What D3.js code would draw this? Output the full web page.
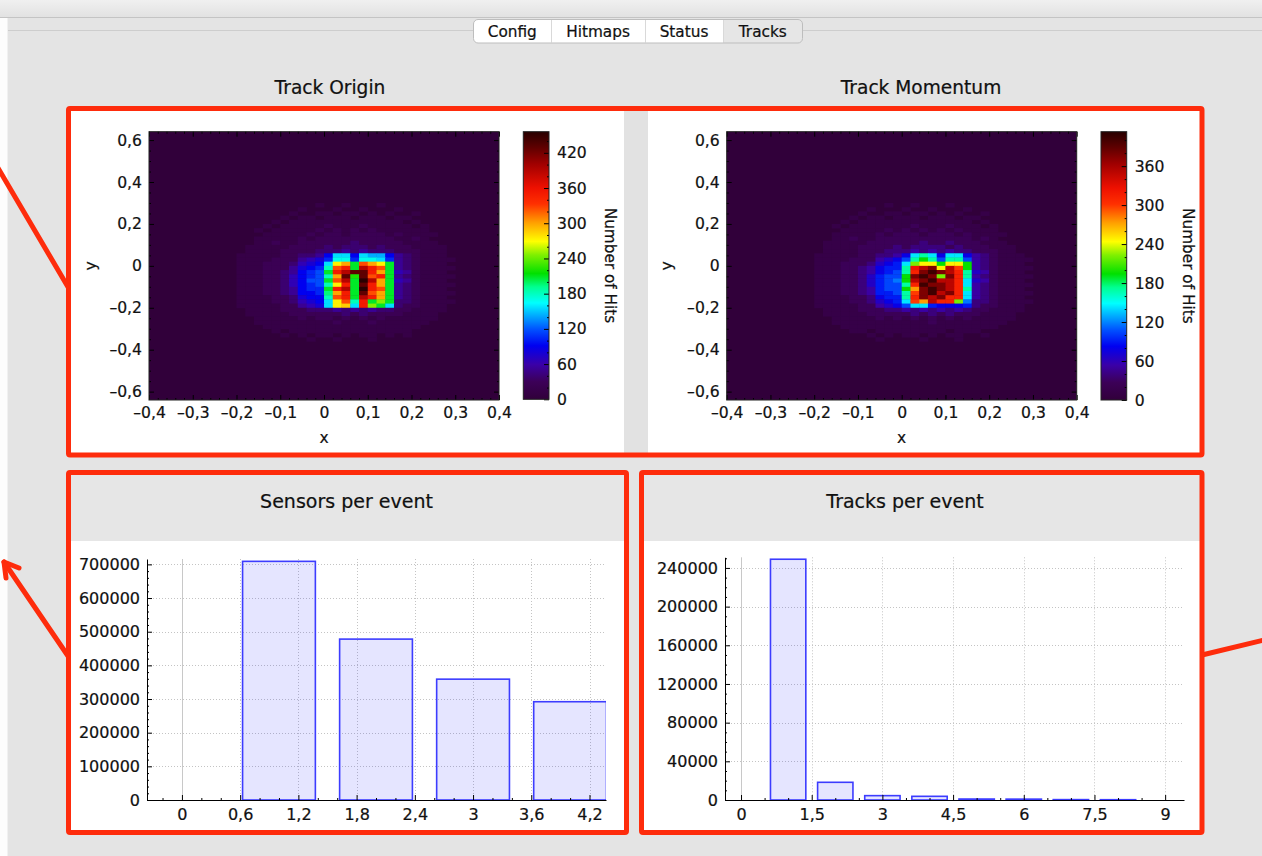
<!DOCTYPE html>
<html><head><meta charset="utf-8">
<script src="https://cdn.jsdelivr.net/npm/d3@7/dist/d3.min.js"></script>
<style>
html,body{margin:0;padding:0;background:#e4e4e4;overflow:hidden}
svg{display:block}
text{font-family:"DejaVu Sans",sans-serif;fill:#111;stroke:#111;stroke-width:0.22px}
</style></head><body>
<svg id="chart" width="1262" height="856"></svg>
<script>
// ---------------- data ----------------
const tabLabels = ["Config", "Hitmaps", "Status", "Tracks"];
const heatTitles = ["Track Origin", "Track Momentum"];
const barTitles = ["Sensors per event", "Tracks per event"];

const sensorsX = [1, 2, 3, 4];
const sensorsCount = [709000, 478000, 359000, 292000];
const tracksX = [1, 2, 3, 4, 5, 6, 7, 8];
const tracksCount = [249000, 18300, 4500, 3800, 1000, 900, 400, 300];

const sensorsXTicks = [0, 0.6, 1.2, 1.8, 2.4, 3, 3.6, 4.2];
const sensorsYTicks = [0, 100000, 200000, 300000, 400000, 500000, 600000, 700000];
const tracksXTicks = [0, 1.5, 3, 4.5, 6, 7.5, 9];
const tracksYTicks = [0, 40000, 80000, 120000, 160000, 200000, 240000];

const heatXTicks = [-0.4, -0.3, -0.2, -0.1, 0, 0.1, 0.2, 0.3, 0.4];
const heatYTicks = [-0.6, -0.4, -0.2, 0, 0.2, 0.4, 0.6];
const originScaleTicks = [0, 60, 120, 180, 240, 300, 360, 420];
const momentumScaleTicks = [0, 60, 120, 180, 240, 300, 360];
const originMax = 456, momentumMax = 413;

// histogram cells: 0.02 x 0.02 bins; window starts at x=-0.20, top y=0.30
// each char = count level, value = index in CODE * 13
const CODE = "0123456789abcdefghijklmnopqrstuvwxyz";
const CODE_STEP = 13;
const originRows = [
 "0000000001|00100010|0000000",
 "0000000100|01001000|1000000",
 "0000001001|10110101|0010000",
 "0000010110|11101110|1100000",
 "0000101111|11111111|1010000",
 "0001011111|21112111|1101000",
 "0010111112|12121211|1111000",
 "0001111121|22122221|2111100",
 "0011111212|22222222|1121000",
 "0011211222|22232222|2111100",
 "0111112222|32333232|2211110",
 "0111122223|33434333|2221110",
 "1111122334|7cc7cbb7|4321110",
 "1111222456|8dd8ddc8|4321111",
 "1112223567|clngpnlg|4321110",
 "1112224678|eprgurpg|4321111",
 "1112234789|gruxxrng|5421110",
 "1112235789|enxhxprg|4321111",
 "1112235799|gpugzung|5421110",
 "1112235789|elrgxrng|4321111",
 "1112234788|grugzrpg|4321110",
 "1112234778|fnrgxpng|4321111",
 "1111223677|eprgurng|4321110",
 "1111223567|clpergjg|3321111",
 "1111122456|clmcrjgc|3221110",
 "0111122233|34343433|2211110",
 "0111112222|22323222|2111100",
 "0011111212|21212121|1111100",
 "0011111111|12111211|1111000",
 "0001111111|11111111|1110000",
 "0000101111|11111111|1100000",
 "0000010101|10101101|0100000",
 "0000000010|01000100|0000000"
];
const momentumRows = [
 "0000000010|01000100|0000000",
 "0000001000|10010001|0000000",
 "0000010011|01101010|0100000",
 "0000101101|11011101|1000000",
 "0001011111|11111111|0100000",
 "0010111111|12111211|1010000",
 "0001111121|21212121|1110000",
 "0011111212|22122212|1111000",
 "0011211222|22222222|1210000",
 "0111112222|22322322|2111000",
 "0111122223|23333232|2211100",
 "0111122233|34343433|2221100",
 "1111122334|6bdb6bb6|4321110",
 "1111222456|8dfd8dd8|4321111",
 "1112223567|bhjjfjjf|4321110",
 "1112234677|dprtjrnf|4321111",
 "1112234678|dotvtrod|5421110",
 "1112235788|ftvthtod|4321111",
 "1112235789|frtvrrob|5421110",
 "1112235788|dovttrob|4321111",
 "1112234788|fltvtrod|4321110",
 "1112234778|dntvrtob|4321111",
 "1111223677|dotrtoob|4321110",
 "1111223567|bnlrooh9|3321111",
 "1111122456|8bb76667|3221110",
 "0111122233|43434343|2211110",
 "0111112222|23232322|2111100",
 "0011111212|12121212|1111100",
 "0011111111|11121111|1111000",
 "0001111111|11111111|1110000",
 "0000110111|11111011|1000000",
 "0000001010|11010110|0100000",
 "0000000100|00100010|0000000"
];
const WIN_X0 = -0.20, WIN_Y0 = 0.30, BIN = 0.02;

const gradStops = [0, 0.066, 0.13, 0.2, 0.26, 0.33, 0.36, 0.42, 0.47, 0.54, 0.59, 0.66, 0.73, 0.79, 0.88, 0.94, 1];
const gradColors = ["#31003a", "#3c0058", "#3a00a8", "#0000f0", "#0050ff", "#00c8ff", "#00ffff", "#00ff90",
  "#00e000", "#80f000", "#ffff00", "#ffa000", "#ff3000", "#ee1000", "#a00000", "#600000", "#280000"];

// ---------------- drawing ----------------
const svg = d3.select("#chart");
const FONT = "DejaVu Sans";
const FS = 16;
const RED = "#fe2c0c";
const loc = d3.formatLocale({decimal: ",", thousands: "", grouping: [3], currency: ["", ""], minus: "\u2013"});
const fmtDec = loc.format(".1~f");
const fmtInt = loc.format("d");

function colorFor(max) {
  return d3.scaleLinear().domain(gradStops.map(s => s * max)).range(gradColors)
    .interpolate(d3.interpolateRgb).clamp(true);
}
function styleAxis(g, fs) {
  g.attr("font-family", FONT).attr("font-size", fs || FS).attr("color", "#000");
  g.selectAll(".tick line").attr("stroke-width", 1);
  return g;
}
function minorOf(lo, hi, step, major) {
  const out = [];
  for (let k = Math.ceil(lo / step - 1e-9); k * step <= hi + 1e-9; k++) {
    const v = k * step;
    const r = v / major;
    if (Math.abs(r - Math.round(r)) > 1e-6) out.push(v);
  }
  return out;
}

// page background
svg.append("rect").attr("width", 1262).attr("height", 856).attr("fill", "#e4e4e4");
const topGrad = svg.append("defs").append("linearGradient").attr("id", "topg").attr("x1", 0).attr("x2", 0).attr("y1", 0).attr("y2", 1);
topGrad.append("stop").attr("offset", 0).attr("stop-color", "#f0f0f0");
topGrad.append("stop").attr("offset", 1).attr("stop-color", "#e2e2e2");
svg.append("rect").attr("x", 0).attr("y", 0).attr("width", 1262).attr("height", 17).attr("fill", "url(#topg)");
svg.append("line").attr("x1", 0).attr("x2", 1262).attr("y1", 17.5).attr("y2", 17.5).attr("stroke", "#c4c4c4");
svg.append("line").attr("x1", 8).attr("x2", 1262).attr("y1", 30.5).attr("y2", 30.5).attr("stroke", "#cdcdcd");
svg.append("rect").attr("x", 0).attr("y", 18).attr("width", 7.5).attr("height", 838).attr("fill", "#fdfdfd");

// tab bar
(function () {
  const b = [473.5, 551, 645, 723, 802.5];
  const g = svg.append("g");
  g.append("clipPath").attr("id", "tabclip").append("rect")
    .attr("x", b[0]).attr("y", 19.5).attr("width", b[4] - b[0]).attr("height", 23.5).attr("rx", 4.5);
  g.append("rect").attr("x", b[0]).attr("y", 19.5).attr("width", b[4] - b[0]).attr("height", 23.5).attr("rx", 4.5).attr("fill", "#ffffff");
  g.append("rect").attr("clip-path", "url(#tabclip)").attr("x", b[3]).attr("y", 19.5).attr("width", b[4] - b[3]).attr("height", 23.5).attr("fill", "#e6e6e6");
  [b[1], b[2], b[3]].forEach(x => g.append("line").attr("x1", x + 0.5).attr("x2", x + 0.5).attr("y1", 20).attr("y2", 42.5).attr("stroke", "#d9d9d9"));
  g.append("rect").attr("x", b[0]).attr("y", 19.5).attr("width", b[4] - b[0]).attr("height", 23.5).attr("rx", 4.5)
    .attr("fill", "none").attr("stroke", "#bdbdbd");
  tabLabels.forEach((t, i) => g.append("text").attr("x", (b[i] + b[i + 1]) / 2).attr("y", 31.5).attr("dy", "0.36em")
    .attr("text-anchor", "middle").attr("font-size", 15.3).text(t));
})();

// heatmap titles
svg.append("text").attr("x", 330).attr("y", 87).attr("dy", "0.36em").attr("text-anchor", "middle").attr("font-size", 18.6).text(heatTitles[0]);
svg.append("text").attr("x", 921).attr("y", 87).attr("dy", "0.36em").attr("text-anchor", "middle").attr("font-size", 18.6).text(heatTitles[1]);

// top panel backgrounds
svg.append("rect").attr("x", 70).attr("y", 110).attr("width", 1131).attr("height", 344).attr("fill", "#e2e2e2");
svg.append("rect").attr("x", 70).attr("y", 110).attr("width", 554).attr("height", 344).attr("fill", "#ffffff");
svg.append("rect").attr("x", 648).attr("y", 110).attr("width", 553).attr("height", 344).attr("fill", "#ffffff");

function drawHeat(cfg) {
  const {x0, x1, y0, y1, rows, max, scaleTicks, cbX0, cbX1, cbY0, cbY1, titleX, yLabelX, id} = cfg;
  const xs = d3.scaleLinear().domain([-0.4, 0.4]).range([x0, x1]);
  const ys = d3.scaleLinear().domain([-0.64, 0.64]).range([y1, y0]);
  const col = colorFor(max);
  const g = svg.append("g");
  g.append("rect").attr("x", x0).attr("y", y0).attr("width", x1 - x0).attr("height", y1 - y0).attr("fill", col(0));
  const cells = [];
  rows.forEach((r0, i) => {
    const r = r0.replace(/\|/g, "");
    for (let j = 0; j < r.length; j++) {
      const v = CODE.indexOf(r[j]) * CODE_STEP;
      if (v > 0) cells.push({x: +(WIN_X0 + j * BIN).toFixed(4), y: +(WIN_Y0 - (i + 1) * BIN).toFixed(4), v});
    }
  });
  g.selectAll("rect.cell").data(cells).join("rect").attr("class", "cell")
    .attr("x", d => xs(d.x)).attr("y", d => ys(d.y + BIN))
    .attr("width", d => xs(d.x + BIN) - xs(d.x) + 0.4)
    .attr("height", d => ys(d.y) - ys(d.y + BIN) + 0.4)
    .attr("fill", d => col(d.v));

  // axes (ticks inward on all four sides)
  const xMinor = minorOf(-0.4, 0.4, 0.02, 0.1);
  const yMinor = minorOf(-0.64, 0.64, 0.05, 0.2);
  const add = (gen, tx, ty, fs) => styleAxis(g.append("g").attr("transform", `translate(${tx},${ty})`).call(gen), fs).call(a => a.select(".domain").remove());
  add(d3.axisBottom(xs).tickValues(heatXTicks).tickFormat(fmtDec).tickSizeInner(-5).tickSizeOuter(0).tickPadding(7), 0, y1, 15.6);
  add(d3.axisBottom(xs).tickValues(xMinor).tickFormat("").tickSizeInner(-2).tickSizeOuter(0), 0, y1);
  add(d3.axisTop(xs).tickValues(heatXTicks).tickFormat("").tickSizeInner(-5).tickSizeOuter(0), 0, y0);
  add(d3.axisTop(xs).tickValues(xMinor).tickFormat("").tickSizeInner(-2).tickSizeOuter(0), 0, y0);
  add(d3.axisLeft(ys).tickValues(heatYTicks).tickFormat(fmtDec).tickSizeInner(-5).tickSizeOuter(0).tickPadding(7), x0, 0, 15.6);
  add(d3.axisLeft(ys).tickValues(yMinor).tickFormat("").tickSizeInner(-2).tickSizeOuter(0), x0, 0);
  add(d3.axisRight(ys).tickValues(heatYTicks).tickFormat("").tickSizeInner(-5).tickSizeOuter(0), x1, 0);
  add(d3.axisRight(ys).tickValues(yMinor).tickFormat("").tickSizeInner(-2).tickSizeOuter(0), x1, 0);
  g.append("rect").attr("x", x0).attr("y", y0).attr("width", x1 - x0).attr("height", y1 - y0)
    .attr("fill", "none").attr("stroke", "#222").attr("stroke-width", 1);
  g.append("text").attr("x", (x0 + x1) / 2).attr("y", 438).attr("dy", "0.3em").attr("text-anchor", "middle").attr("font-size", 15.5).text("x");
  g.append("text").attr("transform", `translate(${yLabelX},${(y0 + y1) / 2}) rotate(-90)`).attr("dy", "0.3em")
    .attr("text-anchor", "middle").attr("font-size", 15.5).text("y");

  // color scale
  const cs = d3.scaleLinear().domain([0, max]).range([cbY1, cbY0]);
  const lg = svg.append("defs").append("linearGradient").attr("id", id).attr("x1", 0).attr("x2", 0).attr("y1", 1).attr("y2", 0);
  gradStops.forEach((s, k) => lg.append("stop").attr("offset", s).attr("stop-color", gradColors[k]));
  g.append("rect").attr("x", cbX0).attr("y", cbY0).attr("width", cbX1 - cbX0).attr("height", cbY1 - cbY0).attr("fill", `url(#${id})`);
  add(d3.axisRight(cs).tickValues(scaleTicks).tickFormat(fmtInt).tickSizeInner(-5).tickSizeOuter(0).tickPadding(8), cbX1, 0, 15.6);
  add(d3.axisRight(cs).tickValues(minorOf(0, max, 20, 60)).tickFormat("").tickSizeInner(-2).tickSizeOuter(0), cbX1, 0);
  g.append("rect").attr("x", cbX0).attr("y", cbY0).attr("width", cbX1 - cbX0).attr("height", cbY1 - cbY0)
    .attr("fill", "none").attr("stroke", "#222");
  g.append("text").attr("transform", `translate(${titleX},${(cbY0 + cbY1) / 2}) rotate(90)`).attr("dy", "0.33em")
    .attr("text-anchor", "middle").attr("font-size", 15.3).text("Number of Hits");
}

drawHeat({x0: 149, x1: 499, y0: 131.7, y1: 400, rows: originRows, max: originMax, scaleTicks: originScaleTicks,
  cbX0: 523.3, cbX1: 549, cbY0: 131.7, cbY1: 399.3, titleX: 610.5, yLabelX: 91, id: "cg1"});
drawHeat({x0: 726.7, x1: 1076.7, y0: 131.7, y1: 400, rows: momentumRows, max: momentumMax, scaleTicks: momentumScaleTicks,
  cbX0: 1101, cbX1: 1126.7, cbY0: 131.7, cbY1: 400, titleX: 1188, yLabelX: 667, id: "cg2"});

// bar charts
function drawBars(cfg) {
  const {bx0, bx1, px0, px1, py0, py1, xDom, yDom, xv, yv, xTicks, yTicks, xStep, xSub, yStep, ySub, title, titleX, id} = cfg;
  svg.append("rect").attr("x", bx0).attr("y", 474).attr("width", bx1 - bx0).attr("height", 67).attr("fill", "#e6e6e6");
  svg.append("rect").attr("x", bx0).attr("y", 541).attr("width", bx1 - bx0).attr("height", 290).attr("fill", "#ffffff");
  svg.append("text").attr("x", titleX).attr("y", 501).attr("dy", "0.36em").attr("text-anchor", "middle").attr("font-size", 19).text(title);
  const xs = d3.scaleLinear().domain(xDom).range([px0, px1]);
  const ys = d3.scaleLinear().domain(yDom).range([py1, py0]);
  const g = svg.append("g");
  // grid
  g.selectAll("line.gy").data(yTicks.filter(v => v !== 0)).join("line").attr("class", "gy")
    .attr("x1", px0).attr("x2", px1).attr("y1", d => Math.round(ys(d)) + 0.5).attr("y2", d => Math.round(ys(d)) + 0.5)
    .attr("stroke", "#c4c4c4").attr("stroke-dasharray", "1,2");
  g.selectAll("line.gx").data(xTicks.filter(v => v !== 0)).join("line").attr("class", "gx")
    .attr("y1", py0).attr("y2", py1).attr("x1", d => Math.round(xs(d)) + 0.5).attr("x2", d => Math.round(xs(d)) + 0.5)
    .attr("stroke", "#c4c4c4").attr("stroke-dasharray", "1,2");
  g.append("line").attr("y1", py0).attr("y2", py1).attr("x1", Math.round(xs(0)) + 0.5).attr("x2", Math.round(xs(0)) + 0.5)
    .attr("stroke", "#c8c8c8");
  // bars
  g.append("clipPath").attr("id", id).append("rect").attr("x", px0).attr("y", py0 - 2).attr("width", px1 - px0).attr("height", py1 - py0 + 2);
  g.append("g").attr("clip-path", `url(#${id})`).selectAll("rect").data(xv.map((x, i) => ({x, y: yv[i]}))).join("rect")
    .attr("x", d => xs(d.x - 0.375)).attr("width", d => xs(d.x + 0.375) - xs(d.x - 0.375))
    .attr("y", d => ys(d.y)).attr("height", d => ys(0) - ys(d.y))
    .attr("fill", "rgba(0,0,255,0.1)").attr("stroke", "#3c3cff").attr("stroke-width", 1.6);
  // axes
  const xa = styleAxis(g.append("g").attr("transform", `translate(0,${py1})`)
    .call(d3.axisBottom(xs).tickValues(xTicks).tickFormat(fmtDec).tickSizeInner(-5).tickSizeOuter(0).tickPadding(9)));
  xa.select(".domain").attr("stroke", "#000");
  styleAxis(g.append("g").attr("transform", `translate(0,${py1})`)
    .call(d3.axisBottom(xs).tickValues(minorOf(xDom[0], xDom[1], xSub, xStep)).tickFormat("").tickSizeInner(-2).tickSizeOuter(0)))
    .call(a => a.select(".domain").remove());
  const ya = styleAxis(g.append("g").attr("transform", `translate(${px0},0)`)
    .call(d3.axisLeft(ys).tickValues(yTicks).tickFormat(fmtInt).tickSizeInner(-5).tickSizeOuter(0).tickPadding(7)));
  ya.select(".domain").attr("stroke", "#000");
  styleAxis(g.append("g").attr("transform", `translate(${px0},0)`)
    .call(d3.axisLeft(ys).tickValues(minorOf(yDom[0], yDom[1], ySub, yStep)).tickFormat("").tickSizeInner(-2).tickSizeOuter(0)))
    .call(a => a.select(".domain").remove());
}

drawBars({bx0: 70, bx1: 625, px0: 147, px1: 606, py0: 559, py1: 800, xDom: [-0.36, 4.37], yDom: [0, 716000],
  xv: sensorsX, yv: sensorsCount, xTicks: sensorsXTicks, yTicks: sensorsYTicks, xStep: 0.6, xSub: 0.2, yStep: 100000, ySub: 20000,
  title: barTitles[0], titleX: 346.5, id: "clipA"});
drawBars({bx0: 643, bx1: 1200, px0: 725, px1: 1184, py0: 557.3, py1: 800, xDom: [-0.34, 9.4], yDom: [0, 251000],
  xv: tracksX, yv: tracksCount, xTicks: tracksXTicks, yTicks: tracksYTicks, xStep: 1.5, xSub: 0.5, yStep: 40000, ySub: 10000,
  title: barTitles[1], titleX: 905, id: "clipB"});

// red annotations
const ann = svg.append("g").attr("fill", "none").attr("stroke", RED).attr("stroke-width", 5).attr("stroke-linejoin", "round");
ann.append("rect").attr("x", 68.5).attr("y", 108.5).attr("width", 1133.5).attr("height", 346.5).attr("rx", 1.5);
ann.append("rect").attr("x", 68.5).attr("y", 472.5).attr("width", 558).attr("height", 360).attr("rx", 1.5);
ann.append("rect").attr("x", 641.5).attr("y", 472.5).attr("width", 560.5).attr("height", 360).attr("rx", 1.5);
ann.append("line").attr("x1", -2).attr("y1", 168).attr("x2", 68).attr("y2", 287).attr("stroke-linecap", "round");
ann.append("line").attr("x1", 4).attr("y1", 562).attr("x2", 68).attr("y2", 656).attr("stroke-linecap", "round");
ann.append("path").attr("d", "M19,568 L4,562 L6,578").attr("stroke-linecap", "round");
ann.append("line").attr("x1", 1202).attr("y1", 655).attr("x2", 1264).attr("y2", 640);
</script>
</body></html>
